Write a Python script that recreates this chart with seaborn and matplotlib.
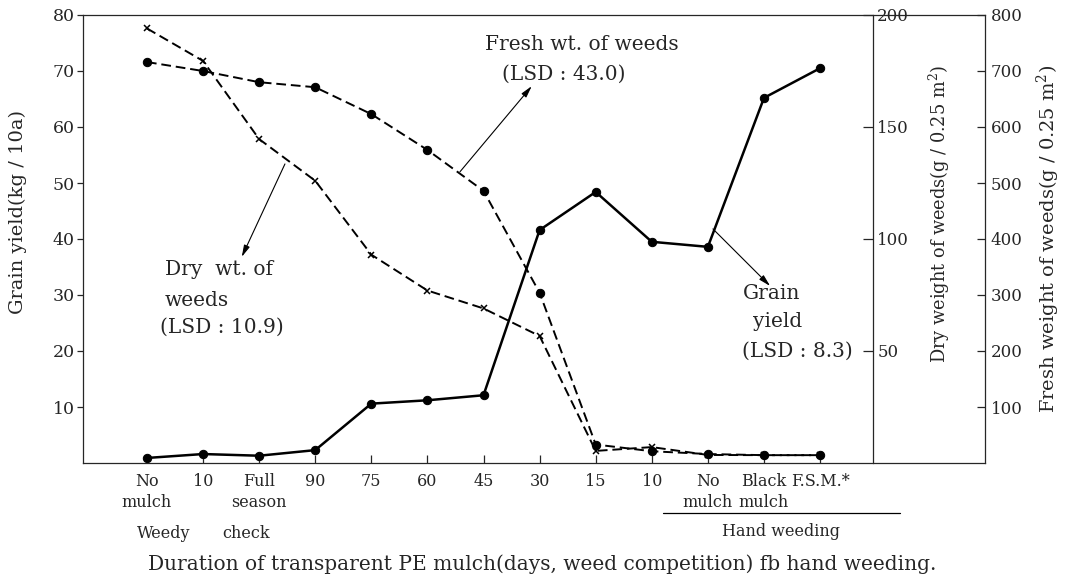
import numpy as np
import pandas as pd
import matplotlib.pyplot as plt
import matplotlib.transforms as mtransforms
import seaborn as sns

# x categories (duplicate labels, so plot against position index)
categories = ["No\nmulch", "10", "Full\nseason", "90", "75", "60", "45", "30",
              "15", "10", "No\nmulch", "Black\nmulch", "F.S.M.*"]
grain_yield = [0.9, 1.6, 1.3, 2.3, 10.6, 11.2, 12.1, 41.6, 48.4, 39.5, 38.6, 65.2, 70.5]   # kg/10a
fresh_wt = [716, 700, 680, 671, 623, 559, 486, 304, 33, 21, 16, 14, 14]                # g/0.25m2
dry_wt = [194, 179.5, 144.6, 126, 93, 77, 69, 56.7, 5.4, 7.1, 3.6, 3.5, 3.5]            # g/0.25m2

pos = np.arange(len(categories))
df = pd.DataFrame({"pos": pos, "grain": grain_yield, "fresh": fresh_wt, "dry": dry_wt})

sns.set_style("ticks")
plt.rcParams['font.family'] = ['DejaVu Serif']
plt.rcParams['mathtext.fontset'] = 'dejavuserif'
plt.rcParams['axes.linewidth'] = 0.9

fig = plt.figure(figsize=(10.66, 5.82), dpi=100)
ax = fig.add_axes([83/1066, 1-463/582, 902/1066, 448/582])
ax2 = ax.twinx()
ax3 = ax.twinx()

# grain yield - solid line, filled circles (left axis)
sns.lineplot(data=df, x="pos", y="grain", ax=ax, color="black", lw=1.8, marker="o",
             markersize=6, mec="black", mfc="black", sort=False, estimator=None)
# dry weight - dashed, x markers
sns.lineplot(data=df, x="pos", y="dry", ax=ax2, color="black", lw=1.4, linestyle=(0, (5, 2.5)),
             marker="x", markersize=5, mew=1.1, mec="black", sort=False, estimator=None)
# fresh weight - dashed, filled circles
sns.lineplot(data=df, x="pos", y="fresh", ax=ax3, color="black", lw=1.4, linestyle=(0, (5, 2.5)),
             marker="o", markersize=6, mec="black", mfc="black", sort=False, estimator=None)

ax.set_xlim(-1.14, 14.94)
ax.set_ylim(0, 80)
ax2.set_ylim(0, 200)
ax3.set_ylim(0, 800)

ax.set_xticks(pos)
ax.set_xticklabels(categories, fontsize=11.5, linespacing=1.3)
ax.tick_params(axis="x", direction="in", length=6, width=0.9, pad=7)
ax.set_yticks(np.arange(10, 81, 10))
ax.tick_params(axis="y", direction="out", length=4, width=0.9, labelsize=12.5, pad=2)

ax2.set_yticks([50, 100, 150, 200])
ax2.tick_params(axis="y", direction="in", length=7, width=0.9, labelsize=12, pad=3)
ax3.set_yticks(np.arange(100, 801, 100))
ax3.tick_params(axis="y", direction="in", length=6, width=0.9, labelsize=12, pad=4)

ax.spines["right"].set_visible(False)
for a in (ax2, ax3):
    for s in ("left", "top", "bottom"):
        a.spines[s].set_visible(False)
ax2.spines["right"].set_position(("axes", 790/902))

ax.set_ylabel("Grain yield(kg / 10a)", fontsize=14)
ax.yaxis.set_label_coords(-0.062, 0.788)
ax.yaxis.label.set_ha("right")
ax2.set_ylabel("Dry weight of weeds(g / 0.25 m$^2$)", fontsize=12.8)
ax2.yaxis.set_label_coords(0.935, 0.888)
ax2.yaxis.label.set_ha("right")
ax3.set_ylabel("Fresh weight of weeds(g / 0.25 m$^2$)", fontsize=14)
ax3.yaxis.set_label_coords(1.055, 0.888)
ax3.yaxis.label.set_ha("right")

ax.set_xlabel("Duration of transparent PE mulch(days, weed competition) fb hand weeding.",
              fontsize=14.5)
ax.xaxis.set_label_coords(0.509, -0.205)

# extra x-axis group labels
bt = mtransforms.blended_transform_factory(ax.transData, ax.transAxes)
ax.text(0.29, -0.158, "Weedy", transform=bt, ha="center", va="center", fontsize=11.5)
ax.text(1.76, -0.158, "check", transform=bt, ha="center", va="center", fontsize=11.5)
ax.plot([9.2, 13.42], [-0.112, -0.112], transform=bt, color="black", lw=0.9, clip_on=False)
ax.text(11.3, -0.152, "Hand weeding", transform=bt, ha="center", va="center", fontsize=11.5)

# curve annotations with arrows
arrow = dict(arrowstyle="-|>,head_length=0.7,head_width=0.18", color="black", lw=0.8,
             shrinkA=0, shrinkB=0)
fs = 14.5
ax.annotate("", xy=(6.86, 67.3), xytext=(5.58, 52.0), arrowprops=arrow)
ax.text(7.75, 74.8, "Fresh wt. of weeds", ha="center", va="center", fontsize=fs)
ax.text(7.43, 69.5, "(LSD : 43.0)", ha="center", va="center", fontsize=fs)

ax.annotate("", xy=(1.69, 36.8), xytext=(2.46, 53.4), arrowprops=arrow)
ax.text(1.28, 34.6, "Dry  wt. of", ha="center", va="center", fontsize=fs)
ax.text(0.89, 29.1, "weeds", ha="center", va="center", fontsize=fs)
ax.text(1.34, 24.3, "(LSD : 10.9)", ha="center", va="center", fontsize=fs)

ax.annotate("", xy=(11.11, 31.6), xytext=(10.09, 41.8), arrowprops=arrow)
ax.text(11.14, 30.2, "Grain", ha="center", va="center", fontsize=fs)
ax.text(11.25, 25.2, "yield", ha="center", va="center", fontsize=fs)
ax.text(11.6, 20.0, "(LSD : 8.3)", ha="center", va="center", fontsize=fs)

fig.savefig("out.png", dpi=100)
